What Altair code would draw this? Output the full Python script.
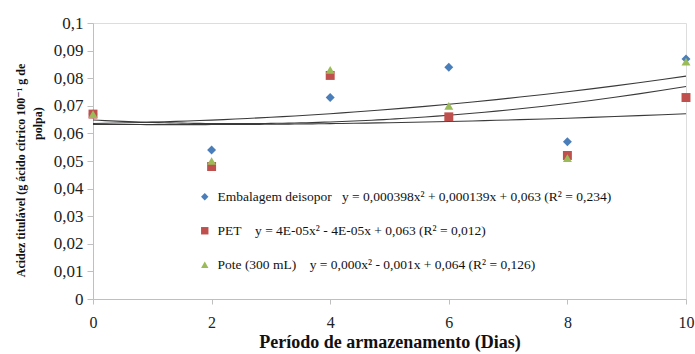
import altair as alt
import pandas as pd

days = [0, 2, 4, 6, 8, 10]
isopor = [0.067, 0.054, 0.073, 0.084, 0.057, 0.087]
pet = [0.067, 0.048, 0.081, 0.066, 0.052, 0.073]
pote = [0.067, 0.050, 0.083, 0.070, 0.051, 0.086]
y_ticks = [0, 0.01, 0.02, 0.03, 0.04, 0.05, 0.06, 0.07, 0.08, 0.09, 0.1]
x_ticks = [0, 2, 4, 6, 8, 10]

NB = "\u00a0"
BLANK = "\u2800"
labels = [
    "Embalagem deisopor" + NB * 3 + "y = 0,000398x² + 0,000139x + 0,063 (R² = 0,234)",
    "PET" + NB * 4 + "y = 4E-05x² - 4E-05x + 0,063 (R² = 0,012)",
    "Pote (300 mL)" + NB * 4 + "y = 0,000x² - 0,001x + 0,064 (R² = 0,126)",
]
y_title = ["Acidez titulável (g ácido cítrico 100⁻¹ g de", BLANK * 10 + "polpa)"]
colors = ["#4a7ebb", "#c0504d", "#9bbb59"]
shapes = ["diamond", "square", "triangle-up"]

rows = []
for lab, vals in zip(labels, [isopor, pet, pote]):
    for d, v in zip(days, vals):
        rows.append({"dia": d, "valor": v, "serie": lab})
df = pd.DataFrame(rows)

FONT = "Times New Roman, Liberation Serif, DejaVu Serif, serif"

x_enc = alt.X(
    "dia:Q",
    scale=alt.Scale(domain=[0, 10], nice=False),
    axis=alt.Axis(
        values=x_ticks, format="d", labelFlush=False,
        title="Período de armazenamento (Dias)",
        grid=False, domainColor="#bfbfbf", tickColor="#bfbfbf", tickSize=5,
        labelFont=FONT, labelFontSize=16, labelColor="#222", labelPadding=10,
        titleFont=FONT, titleFontSize=18, titleFontWeight="bold", titleColor="#111",
        titleBaseline="alphabetic", titleY=48,
    ),
)
y_enc = alt.Y(
    "valor:Q",
    scale=alt.Scale(domain=[0, 0.1], nice=False),
    axis=alt.Axis(
        values=y_ticks, tickCount=11,
        labelExpr="replace(format(datum.value, '.2~f'), '.', ',')",
        labelOverlap=False, labelFlush=False,
        title=y_title,
        grid=False, domainColor="#bfbfbf", tickColor="#bfbfbf", tickSize=6,
        labelFont=FONT, labelFontSize=17, labelColor="#222", labelPadding=4,
        titleFont=FONT, titleFontSize=12, titleFontWeight="bold", titleColor="#111",
        titleX=-78, titleY=147, titleAngle=-90, titleBaseline="top",
        titleAlign="center", titleLineHeight=17,
    ),
)

trend = alt.Chart(df).transform_regression(
    "dia", "valor", groupby=["serie"], method="poly", order=2, extent=[0, 10]
).mark_line(color="#3a3a3a", strokeWidth=1.1).encode(
    x=x_enc, y=y_enc, detail="serie:N"
)

points = alt.Chart(df).mark_point(filled=True, size=80, opacity=1).encode(
    x=x_enc,
    y=y_enc,
    color=alt.Color("serie:N", scale=alt.Scale(domain=labels, range=colors),
                    legend=alt.Legend(
                        title=None, orient="none", legendX=105, legendY=167,
                        labelFont=FONT, labelFontSize=13.5, labelColor="#111",
                        labelLimit=700, rowPadding=19, symbolSize=55,
                        symbolOffset=0, labelOffset=6,
                    )),
    shape=alt.Shape("serie:N", scale=alt.Scale(domain=labels, range=shapes)),
)

chart = alt.layer(trend, points).properties(
    width=593, height=276,
    autosize=alt.AutoSizeParams(type="none"),
    padding={"left": 93, "top": 23, "right": 9, "bottom": 55},
).configure_view(stroke=None).configure(background="white")

chart.save("out.html", embed_options={"renderer": "svg", "actions": False})
